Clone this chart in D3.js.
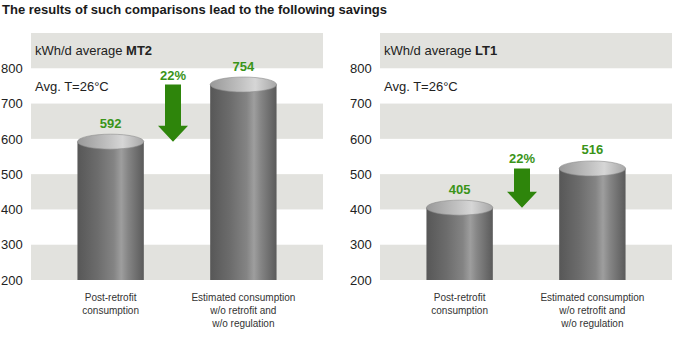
<!DOCTYPE html>
<html>
<head>
<meta charset="utf-8">
<script src="https://cdn.jsdelivr.net/npm/d3@7"></script>
<style>
  html, body { margin: 0; padding: 0; background: #fff; }
  svg { display: block; font-family: "Liberation Sans", Arial, Helvetica, sans-serif; }
</style>
</head>
<body>
<svg id="chart" width="675" height="347"></svg>
<script>
// Daily consumption, kWh/d
const categories = ['post', 'estimated'];
const categoryLabels = [
  ['Post-retrofit', 'consumption'],
  ['Estimated consumption', 'w/o retrofit and', 'w/o regulation']
];
const panels = ['MT2', 'LT1'];
const valuesMT2 = [592, 754];
const valuesLT1 = [405, 516];
const savingsLabels = ['22%', '22%'];
const tickValues = [200, 300, 400, 500, 600, 700, 800];
const bandStarts = [200, 400, 600, 800];

const GREEN = '#3a9419';
const ARROW_GREEN = '#2e850b';

const svg = d3.select('#chart');
const defs = svg.append('defs');

// Cylinder body: dark edges, highlight right of centre
const bodyGrad = defs.append('linearGradient').attr('id', 'cyl-body')
  .attr('x1', '0%').attr('x2', '100%').attr('y1', '0%').attr('y2', '0%');
[[0, '#575757'], [0.3, '#6c6c6c'], [0.55, '#848484'], [0.66, '#9e9e9e'], [0.76, '#868686'], [1, '#5a5a5a']]
  .forEach(([o, c]) => bodyGrad.append('stop').attr('offset', o).attr('stop-color', c));

const capGrad = defs.append('linearGradient').attr('id', 'cyl-top')
  .attr('x1', '0%').attr('x2', '100%').attr('y1', '0%').attr('y2', '0%');
[[0, '#999'], [0.45, '#c0c0c0'], [0.68, '#d6d6d6'], [1, '#a6a6a6']]
  .forEach(([o, c]) => capGrad.append('stop').attr('offset', o).attr('stop-color', c));

svg.append('text')
  .attr('x', 2).attr('y', 14)
  .style('font-size', '13px').style('font-weight', 'bold').style('fill', '#1a1a1a')
  .text('The results of such comparisons lead to the following savings');

const panelLayout = [
  { x0: 31, x1: 323, tickX: 1, values: valuesMT2 },
  { x0: 380, x1: 672, tickX: 350, values: valuesLT1 }
];

panels.forEach((name, i) => {
  const layout = panelLayout[i];
  const values = layout.values;
  const g = svg.append('g');

  const y = d3.scaleLinear().domain([200, 900]).range([280, 33]);
  const x = d3.scaleBand().domain(categories).range([layout.x0, layout.x1])
    .paddingInner(0.5).paddingOuter(0.35);

  // Alternating grey bands, including the header band on top
  g.selectAll('rect.band').data(bandStarts).join('rect')
    .attr('class', 'band')
    .attr('x', layout.x0).attr('width', layout.x1 - layout.x0)
    .attr('y', d => y(d + 100)).attr('height', d => y(d) - y(d + 100))
    .style('fill', '#e2e2de');

  g.selectAll('text.tick').data(tickValues).join('text')
    .attr('class', 'tick')
    .attr('x', layout.tickX).attr('y', d => y(d)).attr('dy', '0.36em')
    .style('font-size', '13px').style('fill', '#222')
    .text(d => d);

  const header = g.append('text').attr('x', layout.x0 + 4).attr('y', y(850)).attr('dy', '0.36em')
    .style('font-size', '13px').style('fill', '#222');
  header.append('tspan').text('kWh/d average ');
  header.append('tspan').style('font-weight', 'bold').text(name);

  g.append('text').attr('x', layout.x0 + 4).attr('y', y(750)).attr('dy', '0.36em')
    .style('font-size', '13px').style('fill', '#222')
    .text('Avg. T=26°C');

  // Cylinders
  const bw = x.bandwidth();
  const ry = 7.5;
  const bars = g.selectAll('g.bar').data(categories).join('g').attr('class', 'bar');
  bars.append('rect')
    .attr('x', d => x(d)).attr('width', bw)
    .attr('y', (d, j) => y(values[j])).attr('height', (d, j) => y(200) - y(values[j]))
    .style('fill', 'url(#cyl-body)');
  bars.append('ellipse')
    .attr('cx', d => x(d) + bw / 2).attr('cy', (d, j) => y(values[j]))
    .attr('rx', bw / 2).attr('ry', ry)
    .style('fill', 'url(#cyl-top)')
    .style('stroke', '#8c8c8c').style('stroke-width', 0.6);
  bars.append('text')
    .attr('x', d => x(d) + bw / 2).attr('y', (d, j) => y(values[j]) - 14)
    .attr('text-anchor', 'middle')
    .style('font-family', '"Liberation Sans Narrow", "Liberation Sans", Arial, sans-serif')
    .style('font-size', '13px').style('font-weight', 'bold').style('fill', GREEN)
    .text((d, j) => values[j]);

  // Category labels
  bars.each(function (d, j) {
    const t = d3.select(this).append('text')
      .attr('y', 297)
      .attr('text-anchor', 'middle')
      .style('font-size', '10px').style('fill', '#333');
    categoryLabels[j].forEach((line, k) => {
      t.append('tspan').attr('x', x(d) + bw / 2).attr('dy', k === 0 ? '0.35em' : '1.3em').text(line);
    });
  });

  // Savings arrow from the higher value down to the lower one
  const ax = (x(categories[0]) + bw + x(categories[1])) / 2 - 4;
  const yTop = y(values[1]);
  const yTip = y(values[0]);
  const headH = 16;
  const shaftW = 8, headW = 15;
  g.append('path')
    .attr('d', `M${ax - shaftW},${yTop} L${ax + shaftW},${yTop} L${ax + shaftW},${yTip - headH}
      L${ax + headW},${yTip - headH} L${ax},${yTip} L${ax - headW},${yTip - headH}
      L${ax - shaftW},${yTip - headH} Z`)
    .style('fill', ARROW_GREEN);
  g.append('text')
    .attr('x', ax).attr('y', yTop - 5)
    .attr('text-anchor', 'middle')
    .style('font-family', '"Liberation Sans Narrow", "Liberation Sans", Arial, sans-serif')
    .style('font-size', '13px').style('font-weight', 'bold').style('fill', GREEN)
    .text(savingsLabels[i]);
});
</script>
</body>
</html>
